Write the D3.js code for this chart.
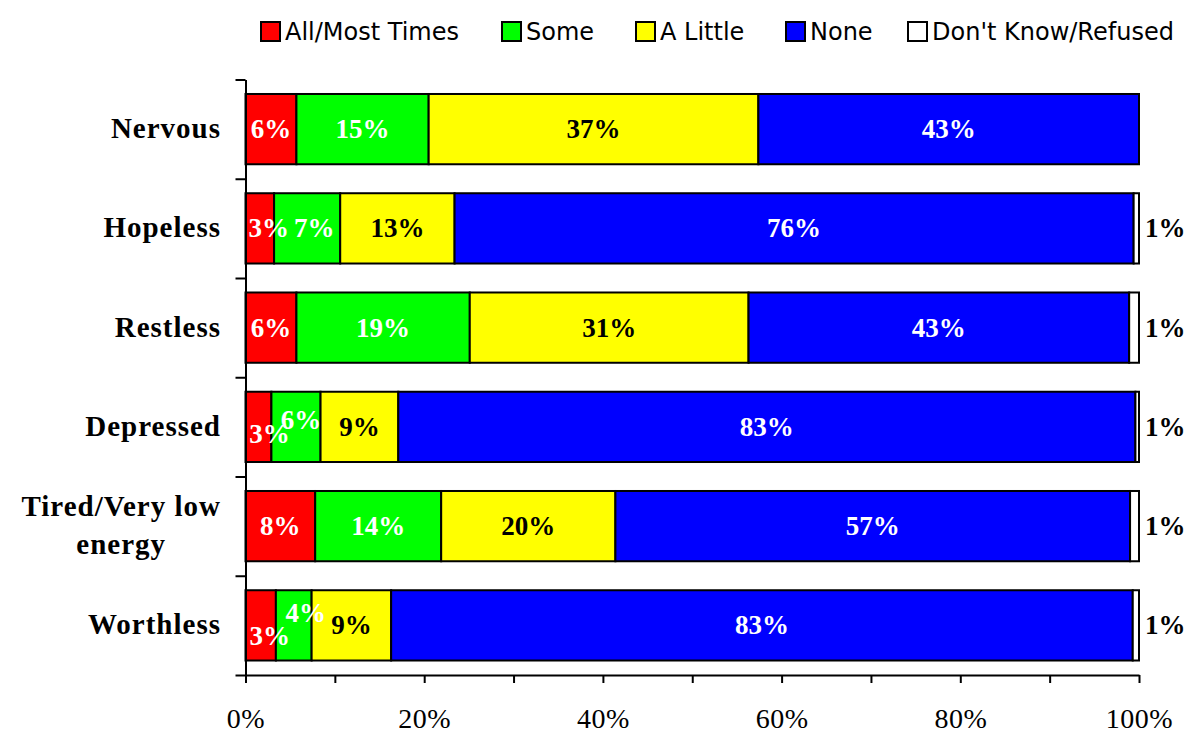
<!DOCTYPE html>
<html>
<head>
<meta charset="utf-8">
<script src="https://cdn.jsdelivr.net/npm/d3@7"></script>
<style>
  html, body { margin: 0; padding: 0; background: #fff; }
  svg { display: block; }
</style>
</head>
<body>
<svg id="chart" width="1187" height="732"></svg>
<script>
// ---------- DATA ----------
const categories = ["Nervous", "Hopeless", "Restless", "Depressed", "Tired/Very low energy", "Worthless"];
const seriesNames = ["All/Most Times", "Some", "A Little", "None", "Don't Know/Refused"];
const allMostTimes = [5.7, 3.2, 5.7, 2.9, 7.8, 3.4];
const some        = [14.8, 7.4, 19.4, 5.5, 14.1, 4.0];
const aLittle     = [36.9, 12.8, 31.2, 8.7, 19.5, 8.9];
const none        = [42.6, 76.0, 42.6, 82.5, 57.6, 83.0];
const dontKnow    = [0, 0.6, 1.1, 0.4, 1.0, 0.7];
// labels as printed on the chart
const labelAllMost = [6, 3, 6, 3, 8, 3];
const labelSome    = [15, 7, 19, 6, 14, 4];
const labelLittle  = [37, 13, 31, 9, 20, 9];
const labelNone    = [43, 76, 43, 83, 57, 83];
const labelDK      = [null, 1, 1, 1, 1, 1];
const xTickValues = [0, 10, 20, 30, 40, 50, 60, 70, 80, 90, 100];

// ---------- STYLE / LAYOUT ----------
const colors = ["#FF0000", "#00FF00", "#FFFF00", "#0000FF", "#FFFFFF"];
const labelColors = ["#fff", "#fff", "#000", "#fff", "#000"];
const serif = "'Liberation Serif', 'Times New Roman', serif";
const sans = "'DejaVu Sans', Verdana, sans-serif";
const legendX = [261, 502, 636, 786, 908];
// manual nudges for crowded labels, keyed "row|series": [dx, dy]
const nudge = {
  "1|0": [9, 0], "1|1": [7, 0],
  "3|0": [11, 7], "3|1": [5, -7],
  "5|0": [9, 11], "5|1": [12, -12]
};

const svg = d3.select("#chart");
const values = [allMostTimes, some, aLittle, none, dontKnow];
const labels = [labelAllMost, labelSome, labelLittle, labelNone, labelDK];

const x = d3.scaleLinear().domain([0, 100]).range([245.5, 1139]);
const y = d3.scaleBand().domain(categories).range([79.5, 675])
  .paddingInner(0.292).paddingOuter(0.146);
const yb = d3.scaleLinear().domain([0, categories.length]).range([79.5, 675]);

// stacked data
const rows = categories.map((c, i) => {
  const o = { cat: c, idx: i };
  seriesNames.forEach((s, j) => o[s] = values[j][i]);
  return o;
});
const stack = d3.stack().keys(seriesNames)(rows);

// bars
const gBars = svg.append("g");
stack.forEach((layer, j) => {
  gBars.selectAll(null).data(layer.filter(d => d[1] - d[0] > 0)).enter()
    .append("rect")
    .attr("x", d => x(d[0]))
    .attr("y", d => y(d.data.cat))
    .attr("width", d => x(d[1]) - x(d[0]))
    .attr("height", y.bandwidth())
    .attr("fill", colors[j])
    .attr("stroke", "#000")
    .attr("stroke-width", 2);
});

// bar labels
const gLab = svg.append("g")
  .attr("font-family", serif).attr("font-weight", "bold").attr("font-size", 27);
stack.forEach((layer, j) => {
  layer.forEach((d, i) => {
    const lab = labels[j][i];
    if (lab == null) return;
    const n = nudge[i + "|" + j] || [0, 0];
    const cy = y(d.data.cat) + y.bandwidth() / 2 + 9 + n[1];
    if (j === 4) {
      gLab.append("text").attr("x", x(100) + 6).attr("y", cy)
        .attr("fill", labelColors[j]).text(lab + "%");
    } else {
      gLab.append("text").attr("x", (x(d[0]) + x(d[1])) / 2 + n[0]).attr("y", cy)
        .attr("text-anchor", "middle").attr("fill", labelColors[j]).text(lab + "%");
    }
  });
});

// y axis (ticks at band boundaries)
const gy = svg.append("g").attr("transform", `translate(${x(0)},0)`)
  .call(d3.axisLeft(yb).tickValues(d3.range(0, categories.length + 1))
    .tickSize(10).tickSizeOuter(0).tickFormat(""));
gy.selectAll("path, line").attr("stroke", "#000").attr("stroke-width", 2);

// x axis
const gx = svg.append("g").attr("transform", `translate(0,675)`)
  .call(d3.axisBottom(x).tickValues(xTickValues).tickSize(8).tickSizeOuter(0)
    .tickPadding(25).tickFormat(d => d % 20 === 0 ? d + "%" : ""));
gx.selectAll("path, line").attr("stroke", "#000").attr("stroke-width", 2);
gx.selectAll("text").attr("font-family", serif).attr("font-size", 28)
  .attr("fill", "#000").attr("letter-spacing", 0.5);

// category labels
const gCat = svg.append("g").attr("font-family", serif).attr("font-weight", "bold")
  .attr("font-size", 29).attr("letter-spacing", 1).attr("fill", "#000");
categories.forEach(c => {
  const cy = y(c) + y.bandwidth() / 2;
  const t = gCat.append("text").attr("text-anchor", "end").attr("x", 221);
  const words = c.split(" ");
  const lines = [];
  let cur = "";
  const probe = gCat.append("text");
  words.forEach(w => {
    const test = cur ? cur + " " + w : w;
    probe.text(test);
    if (probe.node().getComputedTextLength() > 215 && cur) { lines.push(cur); cur = w; }
    else cur = test;
  });
  lines.push(cur);
  probe.remove();
  const lh = 38;
  const y0 = cy + 9 - (lines.length - 1) * lh / 2;
  lines.forEach((l, k) => {
    t.append("tspan").attr("x", 221).attr("y", y0 + k * lh).text(l);
  });
  if (lines.length > 1) {
    const w0 = t.select("tspan").node().getComputedTextLength();
    t.selectAll("tspan").filter((d, k) => k > 0)
      .attr("x", 221 - w0 / 2).attr("text-anchor", "middle");
  }
});

// legend
const gLeg = svg.append("g");
seriesNames.forEach((s, j) => {
  gLeg.append("rect").attr("x", legendX[j]).attr("y", 22).attr("width", 19).attr("height", 19)
    .attr("fill", colors[j]).attr("stroke", "#000").attr("stroke-width", 2);
  gLeg.append("text").attr("x", legendX[j] + 24).attr("y", 40)
    .attr("font-family", sans).attr("font-size", 24).attr("fill", "#000").text(s);
});
</script>
</body>
</html>
